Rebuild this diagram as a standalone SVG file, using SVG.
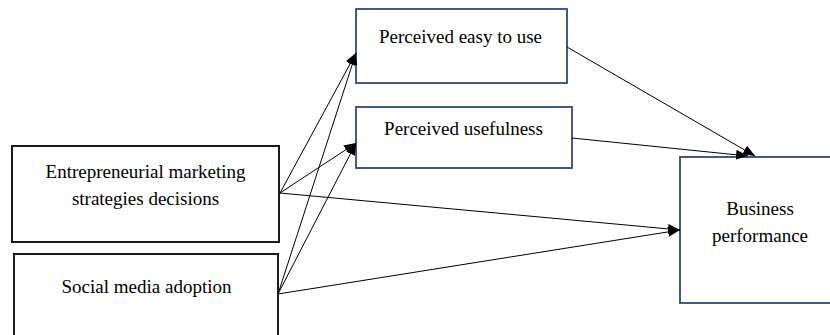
<svg xmlns="http://www.w3.org/2000/svg" width="830" height="335" viewBox="0 0 830 335">
<style>
  text { font-family: 'Liberation Serif', 'Times New Roman', 'DejaVu Serif', serif; font-size: 19px; fill: #000; text-anchor: middle; }
  .bk { fill: #fff; stroke: #1a1a1a; stroke-width: 2; }
  .bl { fill: #fff; stroke: #2f4a78; stroke-width: 1.8; }
  .c { stroke: #000; stroke-width: 1; fill: none; marker-end: url(#ah); }
</style>
<defs>
  <marker id="ah" markerWidth="12" markerHeight="10" refX="12" refY="5" orient="auto" markerUnits="userSpaceOnUse">
    <path d="M0,0 L12,5 L0,10 Z" fill="#000"/>
  </marker>
</defs>
<rect width="830" height="335" fill="#fff"/>
<g id="n-emsd">
  <rect class="bk" x="12" y="146" width="267" height="96"/>
  <text x="145.5" y="178" font-family="Liberation Serif, serif">Entrepreneurial marketing</text>
  <text x="145.5" y="205" font-family="Liberation Serif, serif">strategies decisions</text>
</g>
<g id="n-sma">
  <rect class="bk" x="14" y="254" width="264" height="90" stroke="#333"/>
  <text x="146.5" y="293" font-family="Liberation Serif, serif">Social media adoption</text>
</g>
<g id="n-peu">
  <rect class="bl" x="356" y="9" width="211" height="74"/>
  <text x="460.5" y="43" font-family="Liberation Serif, serif">Perceived easy to use</text>
</g>
<g id="n-pu">
  <rect class="bl" x="356" y="107" width="216" height="61"/>
  <text x="463.5" y="135" font-family="Liberation Serif, serif">Perceived usefulness</text>
</g>
<g id="n-bp">
  <rect class="bl" x="680" y="157" width="160" height="146"/>
  <text x="760" y="215" font-family="Liberation Serif, serif">Business</text>
  <text x="760" y="242" font-family="Liberation Serif, serif">performance</text>
</g>
<g id="connectors">
  <line class="c" x1="280" y1="193" x2="356" y2="53"/>
  <line class="c" x1="280" y1="193" x2="356" y2="143"/>
  <line class="c" x1="278" y1="294" x2="356" y2="53"/>
  <line class="c" x1="278" y1="294" x2="356" y2="143"/>
  <line class="c" x1="280" y1="193" x2="680" y2="230"/>
  <line class="c" x1="278" y1="294" x2="680" y2="230"/>
  <line class="c" x1="567" y1="47" x2="755" y2="156"/>
  <line class="c" x1="572" y1="138" x2="748" y2="156"/>
</g>
</svg>
